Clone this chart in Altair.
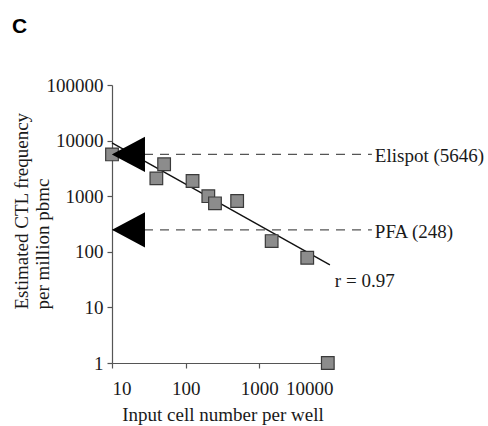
import altair as alt
import pandas as pd

# Data
cells = [10, 40, 51, 124, 203, 250, 500, 1470, 4470, 8500]
freq = [5646, 2090, 3750, 1875, 1000, 745, 820, 156, 78, 1]

fit_x = [10, 9080]
fit_y = [9060, 58]

ref_names = ["Elispot (5646)", "PFA (248)"]
ref_values = [5646, 248]
ref_start = [10, 10]
ref_end = [33700, 33700]
arrow_x = [17, 17]
label_x = [37000, 37000]

r_text = ["r = 0.97"]
r_x = [10600]
r_y = [23.3]

x_ticks = [10, 100, 1000, 10000]
y_ticks = [1, 10, 100, 1000, 10000, 100000]

pts = pd.DataFrame({"cells": cells, "freq": freq})
fit = pd.DataFrame({"cells": fit_x, "freq": fit_y})
refs = pd.DataFrame({"name": ref_names, "val": ref_values, "x0": ref_start,
                     "x1": ref_end, "ax": arrow_x, "lx": label_x})
rdf = pd.DataFrame({"t": r_text, "x": r_x, "y": r_y})

FONT = "Liberation Serif"
FS = 19

xs = alt.Scale(type="log", domain=[10, 10000], nice=False)
ys = alt.Scale(type="log", domain=[1, 100000], nice=False)

xax = alt.Axis(values=x_ticks, format="d", title="Input cell number per well",
               grid=False, tickSize=5, labelPadding=11, titlePadding=7)
yax = alt.Axis(values=y_ticks, format="d",
               title=["Estimated CTL frequency", "per million pbmc"],
               grid=False, tickSize=5, labelPadding=4,
               titleAngle=270, titleAlign="left", titleBaseline="top",
               titleX=-100, titleY=224, titleLineHeight=21)

points = alt.Chart(pts).mark_point(
    shape="square", filled=True, size=160, fill="#8c8c8c",
    stroke="#3a3a3a", strokeWidth=1.2, opacity=1
).encode(
    x=alt.X("cells:Q", scale=xs, axis=xax),
    y=alt.Y("freq:Q", scale=ys, axis=yax),
)

line = alt.Chart(fit).mark_line(color="#111111", strokeWidth=1.4).encode(
    x=alt.X("cells:Q", scale=xs),
    y=alt.Y("freq:Q", scale=ys),
)

dashes = alt.Chart(refs).mark_rule(
    color="#555555", strokeWidth=1.2, strokeDash=[9, 7]
).encode(
    x=alt.X("x0:Q", scale=xs),
    x2="x1:Q",
    y=alt.Y("val:Q", scale=ys),
)

arrows = alt.Chart(refs).mark_point(
    shape="M-1,0L1,-1.07L1,1.07Z", filled=True, size=900,
    fill="black", stroke="black", opacity=1
).encode(
    x=alt.X("ax:Q", scale=xs),
    y=alt.Y("val:Q", scale=ys),
)

labels = alt.Chart(refs).mark_text(
    align="left", baseline="middle", font=FONT, fontSize=FS, color="#1a1a1a", dy=2
).encode(
    x=alt.X("lx:Q", scale=xs),
    y=alt.Y("val:Q", scale=ys),
    text="name:N",
)

rlabel = alt.Chart(rdf).mark_text(
    align="left", baseline="alphabetic", font=FONT, fontSize=FS, color="#1a1a1a"
).encode(
    x=alt.X("x:Q", scale=xs),
    y=alt.Y("y:Q", scale=ys),
    text="t:N",
)

panel = alt.Chart(pd.DataFrame({"t": ["C"]})).mark_text(
    align="left", baseline="alphabetic", font="Liberation Sans",
    fontSize=21, fontWeight="bold", color="black"
).encode(
    x=alt.value(-100), y=alt.value(-52), text="t:N"
)

chart = alt.layer(dashes, line, points, arrows, labels, rlabel, panel).properties(
    width=221, height=278,
    autosize=alt.AutoSizeParams(type="none"),
    padding={"left": 112, "top": 85, "right": 155, "bottom": 63},
    background="white",
).configure_view(stroke=None).configure_axis(
    domainColor="#555555", tickColor="#555555", domainWidth=1.2, tickWidth=1.2,
    labelFont=FONT, labelFontSize=FS, labelColor="#1a1a1a",
    titleFont=FONT, titleFontSize=FS, titleColor="#1a1a1a", titleFontWeight="normal",
)

chart.save("out.html", embed_options={"renderer": "svg", "actions": False})
